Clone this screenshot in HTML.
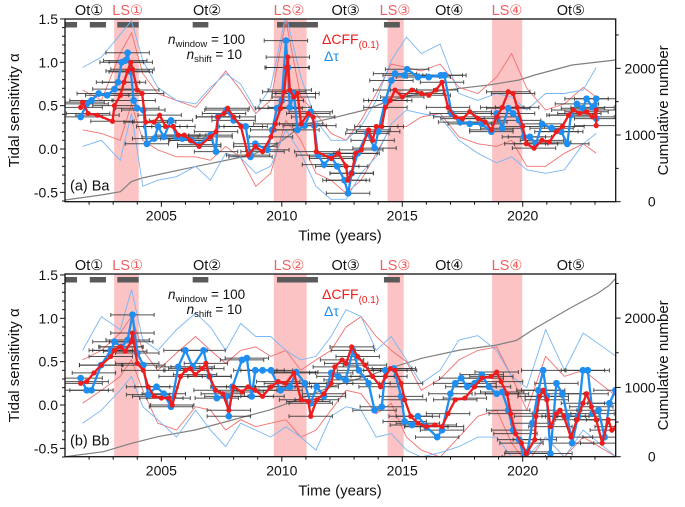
<!DOCTYPE html>
<html><head><meta charset="utf-8"><style>
body{margin:0;background:#fff}
svg{display:block;font-family:"Liberation Sans","DejaVu Sans",sans-serif}
</style></head><body>
<svg id="chart" width="685" height="507" viewBox="0 0 685 507" xmlns="http://www.w3.org/2000/svg"></svg>
<script>
// ---------- data ----------
const LS_PERIODS = [[2003.04,2004.06],[2009.67,2011.03],[2014.39,2015.06],[2018.73,2019.98]];
const GRAY_BARS = [[2001.0,2001.5],[2002.03,2002.7],[2003.17,2004.06],[2006.3,2006.95],[2009.8,2011.5],[2014.24,2014.9]];
const PERIOD_LABELS = ["Ot①","LS①","Ot②","LS②","Ot③","LS③","Ot④","LS④","Ot⑤"];
const PERIOD_LABEL_YEARS = [2002.0,2003.6,2006.9,2010.3,2012.65,2014.7,2016.95,2019.35,2022.0];
const X_TICKS = [2005,2010,2015,2020];
const Y_TICKS = [1.5,1.0,0.5,0.0,-0.5];
const R_TICKS = [0,1000,2000];
const XERR = 0.9;

// panel a
const A_RED_YEARS = [2001.65,2001.73,2001.96,2002.35,2002.97,2003.05,2003.3,2003.45,2003.6,2003.73,2003.8,2004.0,2004.2,2004.35,2004.7,2004.93,2005.17,2005.5,2005.7,2005.95,2006.2,2006.57,2007.04,2007.27,2007.35,2007.6,2007.75,2008.0,2008.3,2008.6,2008.9,2009.2,2009.55,2009.73,2009.95,2010.1,2010.2,2010.25,2010.33,2010.5,2010.65,2010.8,2011.1,2011.3,2011.43,2012.05,2012.35,2012.67,2012.75,2012.9,2013.06,2013.3,2013.6,2013.77,2013.92,2014.15,2014.3,2014.5,2014.7,2015.0,2015.4,2015.8,2016.1,2016.4,2016.65,2016.9,2017.2,2017.5,2017.8,2018.15,2018.45,2018.7,2018.92,2019.15,2019.4,2019.6,2019.77,2020.0,2020.15,2020.47,2020.8,2021.1,2021.4,2021.65,2021.9,2022.1,2022.35,2022.65,2022.9,2023.05,2023.05];
const A_RED_VALS = [0.48,0.54,0.41,0.39,0.32,0.50,0.62,0.77,0.9,1.0,0.92,0.68,0.64,0.31,0.31,0.39,0.26,0.26,0.16,0.16,0.10,0.03,0.14,0.2,0.37,0.41,0.47,0.37,0.26,-0.07,0.03,-0.03,0.14,0.29,0.47,0.66,0.94,1.06,0.68,0.6,0.64,0.29,0.41,0.37,-0.03,-0.11,-0.05,-0.2,-0.36,-0.28,-0.05,-0.01,0.22,0.10,0.26,0.26,0.48,0.56,0.68,0.6,0.68,0.64,0.62,0.68,0.77,0.48,0.37,0.35,0.43,0.35,0.31,0.22,0.37,0.48,0.66,0.64,0.48,0.26,0.06,0.01,0.1,0.08,0.2,0.26,0.39,0.45,0.41,0.43,0.37,0.45,0.27];
const A_BLUE_YEARS = [2001.65,2001.9,2002.1,2002.4,2002.75,2003.05,2003.2,2003.35,2003.5,2003.6,2003.73,2003.85,2004.0,2004.25,2004.4,2004.7,2004.87,2005.1,2005.4,2005.63,2005.87,2006.25,2006.57,2007.04,2007.27,2007.35,2007.7,2008.0,2008.5,2008.7,2008.9,2009.4,2009.6,2009.8,2010.0,2010.17,2010.25,2010.33,2010.5,2010.65,2010.95,2011.2,2011.35,2011.5,2011.75,2012.05,2012.3,2012.6,2012.75,2012.9,2013.15,2013.55,2013.85,2014.0,2014.3,2014.55,2014.7,2015.1,2015.2,2015.65,2016.1,2016.6,2016.75,2017.05,2017.4,2017.8,2018.3,2018.7,2018.92,2019.15,2019.4,2019.6,2019.85,2020.05,2020.3,2020.55,2020.8,2021.2,2021.6,2021.85,2022.0,2022.25,2022.5,2022.65,2022.9,2023.05,2023.05];
const A_BLUE_VALS = [0.37,0.52,0.56,0.64,0.62,0.69,0.77,1.0,1.02,1.11,0.89,0.56,0.47,0.45,0.06,0.12,0.26,0.14,0.33,0.14,0.12,0.10,0.05,0.16,-0.03,0.37,0.45,0.33,0.26,-0.09,0.06,-0.01,0.22,0.47,0.56,1.25,0.94,0.48,0.64,0.22,0.27,0.43,0.27,-0.07,-0.18,-0.09,-0.2,-0.36,-0.51,-0.28,-0.05,0.18,0.01,0.2,0.56,0.79,0.87,0.85,0.92,0.83,0.83,0.85,0.85,0.41,0.31,0.29,0.29,0.20,0.41,0.24,0.47,0.41,0.33,0.14,0.14,0.06,0.29,0.24,0.2,0.06,0.39,0.52,0.47,0.58,0.48,0.58,0.35];
const ENV_YEARS = [2001.73,2002.51,2003.29,2003.76,2004.23,2004.85,2005.63,2006.42,2007.04,2007.67,2008.29,2008.92,2009.54,2010.17,2010.79,2011.42,2012.04,2012.67,2013.29,2013.92,2014.54,2015.17,2015.79,2016.57,2017.35,2018.14,2018.92,2019.54,2020.17,2020.95,2021.73,2022.51,2023.05];
const A_RED_UP = [0.68,0.56,1.1,1.34,0.87,0.64,0.56,0.48,0.68,0.9,0.68,0.41,0.56,1.48,0.6,0.41,0.18,0.1,0.33,0.64,0.98,0.94,0.9,0.98,0.71,0.64,0.83,1.1,0.7,0.45,0.52,0.71,0.6];
const A_RED_LO = [0.22,0.18,0.1,0.52,0.1,-0.01,-0.09,-0.09,-0.13,0.03,-0.1,-0.43,-0.28,0.33,0.1,-0.28,-0.36,-0.51,-0.36,-0.05,0.26,0.26,0.37,0.41,0.14,0.06,0.03,0.1,-0.2,-0.2,-0.05,0.06,-0.05];
const A_BLUE_UP = [0.94,1.06,1.32,1.48,1.02,0.71,0.56,0.52,0.71,0.87,0.75,0.45,0.71,1.55,0.83,0.33,0.1,0.1,0.26,0.56,1.02,1.29,1.1,1.21,0.64,0.56,0.64,0.6,0.45,0.64,0.64,0.68,0.94];
const A_BLUE_LO = [0.03,0.1,-0.13,0.41,-0.43,-0.36,-0.32,-0.2,-0.36,-0.05,-0.1,-0.28,-0.2,0.22,-0.05,-0.43,-0.58,-0.58,-0.28,-0.09,0.29,0.45,0.41,0.37,0.1,-0.05,-0.16,-0.09,-0.24,-0.28,-0.24,0.06,0.18];
const A_CUM_YEARS = [2001.0,2002.5,2003.3,2003.75,2004.2,2006.4,2008.75,2009.85,2010.5,2011.1,2012.05,2013.45,2014.55,2015.8,2017.4,2018.6,2019.85,2020.5,2022.05,2023.85];
const A_CUM_VALS = [25,100,150,300,355,525,700,875,1050,1175,1250,1375,1525,1625,1700,1750,1825,1900,2050,2125];

// panel b
const B_RED_YEARS = [2001.65,2001.9,2002.2,2002.5,2002.9,2003.05,2003.3,2003.5,2003.75,2003.8,2004.0,2004.25,2004.45,2004.7,2005.0,2005.3,2005.45,2005.8,2006.0,2006.2,2006.4,2006.7,2006.85,2007.0,2007.25,2007.55,2007.8,2008.0,2008.35,2008.6,2008.9,2009.2,2009.55,2009.85,2010.17,2010.5,2010.8,2011.1,2011.2,2011.45,2011.75,2012.05,2012.2,2012.5,2012.67,2012.9,2013.15,2013.45,2013.77,2014.1,2014.3,2014.5,2014.7,2014.95,2015.1,2015.35,2015.65,2016.0,2016.35,2016.65,2016.9,2017.2,2017.6,2018.0,2018.3,2018.7,2018.92,2019.1,2019.35,2019.5,2019.7,2019.95,2020.15,2020.5,2020.55,2020.7,2020.85,2021.0,2021.15,2021.4,2021.55,2021.7,2022.0,2022.25,2022.5,2022.65,2022.85,2023.05,2023.3,2023.55,2023.7,2023.9];
const B_RED_VALS = [0.25,0.27,0.37,0.46,0.56,0.63,0.67,0.62,0.73,0.83,0.48,0.40,0.21,0.10,0.08,0.08,0.0,0.33,0.40,0.42,0.35,0.42,0.48,0.33,0.17,0.13,-0.06,0.21,0.15,0.21,0.17,0.10,0.21,0.27,0.25,0.37,0.06,0.04,-0.13,0.06,0.13,0.25,0.44,0.52,0.48,0.67,0.56,0.46,0.33,0.21,0.33,0.42,0.40,0.25,0.06,-0.13,-0.21,-0.25,-0.23,-0.25,-0.10,0.06,0.08,0.21,0.31,0.33,0.38,0.27,0.13,-0.10,-0.33,-0.44,-0.56,-0.40,-0.13,0.10,0.17,0.06,-0.25,-0.10,-0.06,-0.13,-0.37,-0.17,0.02,0.13,-0.02,-0.17,-0.44,-0.17,-0.29,-0.25];
const B_BLUE_YEARS = [2001.65,2001.9,2002.1,2002.5,2002.9,2003.05,2003.35,2003.6,2003.8,2004.0,2004.25,2004.45,2004.8,2005.1,2005.4,2005.7,2006.0,2006.3,2006.75,2007.0,2007.3,2007.7,2007.8,2007.95,2008.35,2008.55,2008.75,2008.9,2009.2,2009.55,2009.95,2010.33,2010.6,2010.95,2011.2,2011.45,2011.75,2012.05,2012.35,2012.65,2012.95,2013.2,2013.6,2013.85,2014.15,2014.3,2014.65,2014.95,2015.1,2015.4,2015.65,2016.0,2016.45,2016.65,2017.0,2017.2,2017.45,2017.7,2018.0,2018.3,2018.6,2018.92,2019.15,2019.4,2019.6,2019.85,2020.05,2020.2,2020.4,2020.65,2020.85,2021.0,2021.15,2021.4,2021.65,2021.85,2022.05,2022.3,2022.5,2022.7,2022.9,2023.15,2023.4,2023.6,2023.85];
const B_BLUE_VALS = [0.31,0.17,0.17,0.46,0.63,0.73,0.67,0.75,1.04,0.60,0.46,0.12,0.21,0.13,-0.02,0.44,0.63,0.44,0.63,0.33,0.08,0.10,-0.13,0.21,0.52,0.54,0.10,0.40,0.40,0.40,0.17,0.21,0.38,0.25,0.02,0.21,0.10,0.37,0.33,0.29,0.63,0.40,0.25,-0.06,-0.02,0.40,0.42,0.10,-0.19,-0.23,-0.13,-0.25,-0.37,-0.29,0.13,0.25,0.31,0.21,0.25,0.35,0.21,0.13,0.15,-0.06,-0.29,-0.40,-0.6,-0.54,-0.21,0.17,0.40,0.10,-0.56,0.25,0.13,-0.13,-0.44,-0.13,0.40,0.40,-0.10,-0.06,-0.37,0.02,0.17];
const B_ENV_YEARS = [2001.73,2002.51,2003.29,2003.76,2004.23,2004.85,2005.63,2006.42,2007.04,2007.67,2008.29,2008.92,2009.54,2010.17,2010.79,2011.42,2012.04,2012.67,2013.29,2013.92,2014.54,2015.17,2015.79,2016.57,2017.35,2018.14,2018.92,2019.54,2020.17,2020.95,2021.73,2022.51,2023.89];
const B_RED_UP = [0.52,0.63,0.83,1.02,0.63,0.40,0.6,0.79,0.63,0.48,0.63,0.67,0.56,0.63,0.40,0.52,0.63,0.9,1.02,0.79,0.63,0.5,0.17,0.3,0.52,0.63,0.67,0.33,-0.06,0.56,0.33,0.4,0.1];
const B_RED_LO = [0.02,0.17,0.33,0.52,0.17,-0.21,-0.29,-0.02,-0.06,-0.29,-0.17,-0.25,-0.21,-0.17,-0.37,-0.29,-0.06,0.17,0.13,-0.1,0.02,-0.37,-0.52,-0.6,-0.37,-0.13,-0.06,-0.44,-0.67,-0.37,-0.6,-0.37,-0.6];
const B_BLUE_UP = [0.63,1.02,0.87,1.33,0.75,0.63,0.87,1.06,0.9,0.63,0.94,0.79,0.79,0.63,0.52,0.56,0.79,1.1,1.02,0.63,0.79,0.52,0.25,0.40,0.75,0.8,0.63,0.33,0.2,0.87,0.4,0.83,0.56];
const B_BLUE_LO = [-0.21,-0.06,0.17,0.33,-0.02,-0.17,-0.37,-0.06,-0.29,-0.48,-0.21,-0.29,-0.37,-0.25,-0.37,-0.52,-0.13,-0.02,-0.06,-0.37,-0.33,-0.52,-0.6,-0.55,-0.48,-0.37,-0.37,-0.6,-0.6,-0.37,-0.6,-0.29,-0.6];
const B_CUM_YEARS = [2001.0,2002.6,2003.75,2004.85,2006.4,2007.95,2009.5,2010.8,2012.05,2013.45,2014.7,2015.8,2017.4,2018.9,2019.75,2020.5,2022.05,2023.1,2023.6,2023.85];
const B_CUM_VALS = [0,72,192,288,385,530,675,840,1010,1155,1300,1420,1540,1610,1680,1850,2160,2355,2475,2570];

// ---------- drawing ----------
const NS = "http://www.w3.org/2000/svg";
const svg = document.getElementById("chart");
function mk(tag, attrs, parent){
  const e = document.createElementNS(NS, tag);
  for (const k in attrs) e.setAttribute(k, attrs[k]);
  (parent||svg).appendChild(e);
  return e;
}
const X0 = 65, X1 = 615.7, YR0 = 2001.0, YR1 = 2023.86;
function xs(yr){ return X0 + (yr - YR0) * (X1 - X0) / (YR1 - YR0); }

function panel(cfg){
  const g = mk("g", {});
  
  
  const top = cfg.top, bot = cfg.bot;
  const ys = v => cfg.zeroY - v * 86.7;
  const rs = c => bot - c * cfg.cumScale;
  const clip = mk("clipPath", {id: "clip-" + cfg.name}, g);
  mk("rect", {x: X0, y: top, width: X1 - X0, height: bot - top}, clip);
  const inner = mk("g", {"clip-path": "url(#clip-" + cfg.name + ")"}, g);

  LS_PERIODS.forEach(p => {
    const r = mk("rect", {x: xs(p[0]), y: top, width: xs(p[1]) - xs(p[0]), height: bot - top, fill: "#fbc3c3"}, inner);
    
    
  });
  GRAY_BARS.forEach(p => {
    const r = mk("rect", {x: xs(p[0]), y: top + 3, width: xs(p[1]) - xs(p[0]), height: 5.5, fill: "#5a5a5a"}, inner);
    
    
  });
  const cp = cfg.cumY.map((yr, i) => xs(yr).toFixed(1) + "," + rs(cfg.cumV[i]).toFixed(1)).join(" ");
  const cl = mk("polyline", {points: cp, fill: "none", stroke: "#808080", "stroke-width": 1.2}, inner);
  
  
  [[cfg.redUp, "#f07070"], [cfg.redLo, "#f07070"], [cfg.blueUp, "#7ab6f5"], [cfg.blueLo, "#7ab6f5"]].forEach(([arr, col]) => {
    const n = Math.min(arr.length, cfg.envY.length);
    const pts = [];
    for (let i = 0; i < n; i++) pts.push(xs(cfg.envY[i]).toFixed(1) + "," + ys(arr[i]).toFixed(1));
    const e = mk("polyline", {points: pts.join(" "), fill: "none", stroke: col, "stroke-width": 0.9}, inner);
    
    
  });
  [[cfg.redY, cfg.redV], [cfg.blueY, cfg.blueV]].forEach(([yy, vv]) => {
    const n = Math.min(yy.length, vv.length);
    for (let i = 0; i < n; i++) {
      const y = ys(vv[i]), a = xs(yy[i] - XERR), b = xs(yy[i] + XERR);
      const eb = mk("path", {d: `M${a},${y}H${b}M${a},${y-2}V${y+2}M${b},${y-2}V${y+2}`, stroke: "#333", "stroke-width": 1, "stroke-opacity": 0.85, fill: "none"}, inner);
      
      
    }
  });
  [[cfg.blueY, cfg.blueV, "#1f8ef1", 3.4, "delta-tau-series"], [cfg.redY, cfg.redV, "#ee1c1c", 2.6, "delta-cff-series"]].forEach(([yy, vv, col, r, nm]) => {
    const n = Math.min(yy.length, vv.length);
    const pts = [];
    for (let i = 0; i < n; i++) pts.push(xs(yy[i]).toFixed(1) + "," + ys(vv[i]).toFixed(1));
    const sg = mk("g", {}, inner);
    
    
    mk("polyline", {points: pts.join(" "), fill: "none", stroke: col, "stroke-width": 2.3, "stroke-linejoin": "round"}, sg);
    for (let i = 0; i < n; i++) {
      const c = mk("circle", {cx: xs(yy[i]), cy: ys(vv[i]), r: r, fill: col}, sg);
      
      
    }
  });
  const fr = mk("rect", {x: X0, y: top, width: X1 - X0, height: bot - top, fill: "none", stroke: "#111", "stroke-width": 1.3}, g);
  
  
  for (let yr = 2002; yr <= 2023; yr++) {
    const major = yr % 5 === 0;
    mk("line", {x1: xs(yr), x2: xs(yr), y1: bot, y2: bot + (major ? 5 : 3), stroke: "#111", "stroke-width": 1}, g);
  }
  X_TICKS.forEach(t => {
    const tx = mk("text", {x: xs(t), y: bot + 19, "text-anchor": "middle", "font-size": 14, fill: "#111"}, g);
    tx.textContent = t;
    
    
  });
  const xt = mk("text", {x: 340, y: bot + 39, "text-anchor": "middle", "font-size": 15, fill: "#111"}, g);
  xt.textContent = "Time (years)";
  
  
  for (let k = -6; k <= 15; k++) {
    const v = k / 10, major = k % 5 === 0;
    mk("line", {x1: X0, x2: X0 - (major ? 5 : 3), y1: ys(v), y2: ys(v), stroke: "#111", "stroke-width": 1}, g);
  }
  Y_TICKS.forEach(t => {
    const tx = mk("text", {x: X0 - 7, y: ys(t) + 5, "text-anchor": "end", "font-size": 14, fill: "#111"}, g);
    tx.textContent = t.toFixed(1);
    
    
  });
  const yt = mk("text", {x: 0, y: 0, "text-anchor": "middle", "font-size": 15, fill: "#111", transform: `translate(19,${(top+bot)/2}) rotate(-90)`}, g);
  yt.textContent = "Tidal sensitivity α";
  
  
  for (let c = 0; c <= 2500; c += 500) {
    const major = c % 1000 === 0;
    mk("line", {x1: X1, x2: X1 + (major ? 5 : 3), y1: rs(c), y2: rs(c), stroke: "#111", "stroke-width": 1}, g);
  }
  R_TICKS.forEach(t => {
    const tx = mk("text", {x: X1 + 40, y: rs(t) + 5, "text-anchor": "end", "font-size": 14, fill: "#111"}, g);
    tx.textContent = t;
    
    
  });
  const rt = mk("text", {x: 0, y: 0, "text-anchor": "middle", "font-size": 15, fill: "#111", transform: `translate(668,${(top+bot)/2}) rotate(-90)`}, g);
  rt.textContent = "Cumulative number";
  
  
  PERIOD_LABELS.forEach((l, i) => {
    const tx = mk("text", {x: xs(PERIOD_LABEL_YEARS[i]), y: top - 4, "text-anchor": "middle", "font-size": 14.5, fill: l.startsWith("LS") ? "#f06060" : "#111"}, g);
    tx.textContent = l;
    
    
  });
  const n1 = mk("text", {x: 168, y: top + 25, "font-size": 13.5, fill: "#111"}, g);
  n1.innerHTML = '<tspan font-style="italic">n</tspan><tspan font-size="9.5" dy="3">window</tspan><tspan dy="-3"> = 100</tspan>';
  
  
  const n2 = mk("text", {x: 242, y: top + 40, "text-anchor": "end", "font-size": 13.5, fill: "#111"}, g);
  n2.innerHTML = '<tspan font-style="italic">n</tspan><tspan font-size="9.5" dy="3">shift</tspan><tspan dy="-3"> = 10</tspan>';
  
  
  const l1 = mk("text", {x: 322, y: top + 25, "font-size": 14, fill: "#ee1c1c"}, g);
  l1.innerHTML = 'ΔCFF<tspan font-size="10" dy="4">(0.1)</tspan>';
  
  
  const l2 = mk("text", {x: 324, y: top + 42, "font-size": 14, fill: "#1f8ef1"}, g);
  l2.textContent = "Δτ";
  
  
  const pl = mk("text", {x: 70, y: bot - 11, "font-size": 14.5, fill: "#111"}, g);
  pl.textContent = cfg.label;
  
  
}

panel({name: "panel-a", top: 19, bot: 201.7, zeroY: 149, cumScale: 0.0667, label: "(a) Ba",
  redY: A_RED_YEARS, redV: A_RED_VALS, blueY: A_BLUE_YEARS, blueV: A_BLUE_VALS,
  envY: ENV_YEARS, redUp: A_RED_UP, redLo: A_RED_LO, blueUp: A_BLUE_UP, blueLo: A_BLUE_LO,
  cumY: A_CUM_YEARS, cumV: A_CUM_VALS});
panel({name: "panel-b", top: 274, bot: 456.7, zeroY: 405, cumScale: 0.0693, label: "(b) Bb",
  redY: B_RED_YEARS, redV: B_RED_VALS, blueY: B_BLUE_YEARS, blueV: B_BLUE_VALS,
  envY: B_ENV_YEARS, redUp: B_RED_UP, redLo: B_RED_LO, blueUp: B_BLUE_UP, blueLo: B_BLUE_LO,
  cumY: B_CUM_YEARS, cumV: B_CUM_VALS});
</script>
</body></html>
